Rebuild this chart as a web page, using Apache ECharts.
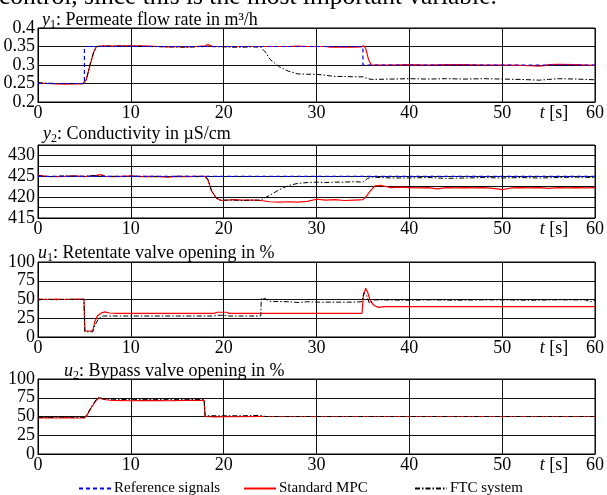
<!DOCTYPE html>
<html><head><meta charset="utf-8">
<script src="https://cdn.jsdelivr.net/npm/echarts@6/dist/echarts.min.js"></script>
<style>html,body{margin:0;padding:0;background:#fff}#c{width:607px;height:495px}</style>
</head><body><div id="c"></div>
<script>
// ---------- data (time in s) ----------
const y1Ref = [[0,0.25],[5,0.25],[5,0.35],[35,0.35],[35,0.30],[60,0.30]];
const y1MPC = [[0,0.251],[1,0.250],[2,0.249],[3,0.248],[4,0.249],[4.8,0.249],[5.2,0.26],[5.6,0.30],[6.0,0.335],[6.3,0.35],[7,0.352],[8,0.351],[9,0.352],[10,0.352],[11,0.352],[12,0.351],[13,0.350],[14,0.349],[15,0.350],[16,0.349],[17,0.350],[18,0.352],[18.3,0.355],[18.7,0.351],[19,0.350],[20,0.350],[21,0.350],[22,0.350],[23,0.350],[24,0.350],[25,0.350],[26,0.350],[27,0.350],[28,0.351],[29,0.350],[30,0.350],[31,0.350],[31.5,0.348],[33,0.348],[34,0.348],[34.8,0.349],[35.1,0.352],[35.3,0.345],[35.6,0.315],[35.9,0.300],[37,0.300],[38,0.300],[40,0.301],[42,0.300],[44,0.301],[46,0.301],[48,0.300],[50,0.300],[52,0.299],[53,0.298],[54,0.297],[54.5,0.298],[55,0.301],[56,0.302],[58,0.301],[59,0.300],[60,0.299]];
const y1FTC = [[0,0.252],[1,0.251],[2,0.250],[3,0.250],[4,0.250],[4.8,0.250],[5.2,0.26],[5.6,0.30],[6,0.335],[6.3,0.350],[7,0.351],[8,0.351],[9,0.351],[10,0.351],[12,0.350],[14,0.349],[16,0.348],[17,0.349],[18,0.350],[20,0.349],[21,0.348],[22,0.348],[23,0.349],[24,0.348],[24.5,0.335],[25,0.315],[25.5,0.305],[26,0.295],[27,0.283],[28,0.276],[29,0.275],[30,0.275],[31,0.272],[32,0.269],[33,0.269],[34,0.268],[35,0.268],[35.5,0.263],[36,0.261],[38,0.262],[40,0.263],[42,0.262],[44,0.263],[46,0.262],[48,0.263],[50,0.262],[52,0.261],[54,0.259],[55,0.261],[56,0.263],[58,0.262],[60,0.260]];

const y2Ref = [[0,425],[60,425]];
const y2MPC = [[0,425.2],[1,425],[2,424.9],[3,425],[4,425.1],[5,424.9],[6,425.1],[6.8,425.4],[7.2,425],[8,424.9],[9,425],[10,425.1],[11,424.9],[12,425],[13,424.9],[14,424.8],[15,425],[16,424.9],[17,425],[18,425],[18.3,424.2],[18.7,421.5],[19.2,419.8],[19.6,419.3],[20,419.2],[21,419.4],[22,419.3],[23,419.3],[24,419.2],[25,418.9],[26,418.8],[27,418.9],[28,418.8],[29,419.0],[30,419.5],[31,419.3],[32,419.4],[33,419.2],[34,419.3],[35,419.4],[35.3,420],[35.8,421.5],[36.3,422.7],[37,422.8],[38,422.3],[39,422.4],[40,422.3],[41,422.2],[42,422.3],[43,422.0],[44,422.3],[45,422.2],[46,422.3],[47,422.2],[48,422.3],[49,422.1],[50,421.8],[51,422.2],[52,422.3],[53,422.2],[54,422.3],[55,422.1],[56,422.3],[57,422.2],[58,422.3],[59,422.2],[60,422.3]];
const y2FTC = [[0,425.1],[1,424.9],[2,425],[3,425.1],[4,425],[5,425],[6,425.2],[7,425],[8,425],[9,424.9],[10,425],[11,425],[12,424.9],[13,425],[14,424.9],[15,425],[16,425],[17,424.9],[18,425],[18.3,424.2],[18.7,421.5],[19.2,419.8],[19.6,419.3],[20,419.3],[21,419.3],[22,419.2],[23,419.3],[24,419.3],[25,420.5],[26,421.8],[27,422.8],[28,423.3],[29,423.5],[30,423.6],[31,423.5],[32,423.6],[33,423.6],[34,423.7],[35,423.6],[35.5,424.5],[36,424.8],[38,424.6],[40,424.6],[42,424.7],[44,424.5],[46,424.6],[48,424.7],[50,424.6],[52,424.7],[54,424.6],[56,424.7],[58,424.8],[60,424.7]];

const u1MPC = [[0,50.5],[1,50],[2,50.5],[3,50],[4,50.5],[4.95,50.5],[5.05,8],[5.9,8],[6.1,20],[6.4,28],[6.8,32],[7.2,33.5],[7.7,32],[8.5,31.5],[10,31.5],[15,31.5],[19,31.5],[19.3,33],[20.3,33],[20.6,31.5],[25,31.5],[30,31.5],[34.9,31.5],[35.05,55],[35.3,65],[35.5,60],[35.8,48],[36.2,42],[36.7,39.5],[37.3,40.5],[40,40.5],[50,40.5],[60,40.5]];
const u1FTC = [[0,49.5],[1,50.5],[2,49.5],[3,50.5],[4,50],[4.95,50],[5.05,7],[5.9,7],[6.1,15],[6.5,24],[7,28],[8,28],[10,28],[15,28],[19,28],[19.3,29],[20,29],[20.5,28],[24,28],[24.05,51.5],[24.5,51],[25,47.5],[27,47],[28,46],[29,47],[30,46.5],[32,46.5],[34,46.5],[34.9,47],[35.1,59],[35.4,55],[35.7,45],[36.2,49.5],[37,49.5],[40,49],[42,49.5],[45,49],[48,49.5],[50,49.5],[53,49],[56,49.5],[59,49.5],[59.5,47],[60,49]];

const u2MPC = [[0,48],[1,48.5],[2,48],[3,48.5],[4,48],[5,48],[5.3,52],[5.8,63],[6.3,72],[6.6,75],[7,73],[7.5,72],[8,71.5],[10,71],[12,71.5],[14,71],[16,71.5],[17.9,71.5],[18.0,50],[19,49.5],[20,49.8],[25,50],[30,50],[40,50],[50,50],[60,50]];
const u2FTC = [[0,49],[1,48.5],[2,49],[3,49.5],[4,49],[5,49],[5.3,53],[5.8,64],[6.3,73],[6.6,76],[7,73.5],[8,73],[10,72.5],[12,72.5],[14,72.5],[16,72.5],[17.9,72.5],[18.0,51],[20,51],[22,51],[24,51.5],[24.5,50],[30,50],[40,50],[50,50],[60,50]];

const seriesNames = ['Reference signals','Standard MPC','FTC system'];
const panelTitles = ['{i|y}{s|1}: Permeate flow rate in m³/h','{i|y}{s|2}: Conductivity in µS/cm','{i|u}{s|1}: Retentate valve opening in %','{i|u}{s|2}: Bypass valve opening in %'];
const headText = 'control, since this is the most important variable.';
const xLabel = '{i|t} [s]';

// ---------- layout ----------
const FONT = "'Liberation Serif','Times New Roman',serif";
const grids = [
  {left:38, top:28, width:560, height:74},
  {left:38, top:145, width:560, height:73},
  {left:38, top:262, width:560, height:75},
  {left:38, top:379, width:560, height:75}
];
const yCfg = [
  {min:0.2, max:0.4, interval:0.05, fmt: v => String(+v.toFixed(2))},
  {min:415, max:432.5, interval:2.5, fmt: v => (Math.abs(v % 5) < 1e-6 ? String(v) : '')},
  {min:0, max:100, interval:25, fmt: v => String(v)},
  {min:0, max:100, interval:25, fmt: v => String(v)}
];
const titlePos = [[42,9],[43,123],[38,242],[64,360]];

const xAxes = grids.map((g,i)=>({
  type:'value', gridIndex:i, min:0, max:60, interval:10,
  axisLine:{show:true, lineStyle:{color:'#000', width:1}},
  axisTick:{show:false},
  splitLine:{show:true, lineStyle:{color:'#111', width:1}},
  axisLabel:{color:'#000', fontFamily:FONT, fontSize:18, margin:2,
    formatter: v => String(v)}
}));
const yAxes = grids.map((g,i)=>({
  type:'value', gridIndex:i, min:yCfg[i].min, max:yCfg[i].max, interval:yCfg[i].interval,
  axisLine:{show:true, lineStyle:{color:'#000', width:1}},
  axisTick:{show:false},
  splitLine:{show:true, lineStyle:{color:'#111', width:1}},
  axisLabel:{color:'#000', fontFamily:FONT, fontSize:18, margin:3, formatter: yCfg[i].fmt}
}));

const styles = {
  'Reference signals': {color:'#0000ff', type:[4,3], width:1.2},
  'Standard MPC': {color:'#ff0000', type:'solid', width:1.2},
  'FTC system': {color:'#000000', type:[5,2,1.5,2], width:1}
};
function mk(name, data, gi, z){
  const st = styles[name];
  return {name, type:'line', data, xAxisIndex:gi, yAxisIndex:gi, symbol:'none', showSymbol:false,
    lineStyle:{color:st.color, type:st.type, width:st.width}, itemStyle:{color:st.color},
    z, animation:false, silent:true};
}
const series = [
  mk('Standard MPC', y1MPC, 0, 2), mk('FTC system', y1FTC, 0, 3), mk('Reference signals', y1Ref, 0, 4),
  mk('Standard MPC', y2MPC, 1, 2), mk('FTC system', y2FTC, 1, 3), mk('Reference signals', y2Ref, 1, 4),
  mk('Standard MPC', u1MPC, 2, 2), mk('FTC system', u1FTC, 2, 3),
  mk('Standard MPC', u2MPC, 3, 2), mk('FTC system', u2FTC, 3, 3)
];

const richT = {
  i:{fontFamily:FONT, fontSize:18, fontStyle:'italic', color:'#000', lineHeight:22},
  s:{fontFamily:FONT, fontSize:12, color:'#000', lineHeight:12, verticalAlign:'bottom'}
};
const titles = panelTitles.map((t,i)=>({
  text:t, left:titlePos[i][0], top:titlePos[i][1], padding:0,
  textStyle:{fontFamily:FONT, fontSize:18, fontWeight:'normal', color:'#000', lineHeight:22, rich:richT}
}));

const legendX = [78, 243, 414];
const legends = seriesNames.map((n,i)=>({
  data:[n], left:legendX[i], top:481, padding:0, itemWidth:32, itemHeight:12, itemGap:0,
  selectedMode:false, itemStyle:{opacity:0, borderWidth:0},
  textStyle:{fontFamily:FONT, fontSize:15, color:'#000', padding:[0,0,0,-2]}
}));

const graphics = [
  {type:'text', x:-1, y:-3, style:{text:headText, font:"25.5px "+FONT, fill:'#000', verticalAlign:'middle'}}
];
grids.forEach(g=>{
  graphics.push({type:'text', x:554, y:g.top+g.height+11,
    style:{text:xLabel, fill:'#000', font:"18px "+FONT, align:'center', verticalAlign:'middle',
      rich:{i:{fontFamily:FONT, fontSize:18, fontStyle:'italic', fill:'#000'}}}});
});

const chart = echarts.init(document.getElementById('c'), null, {renderer:'canvas'});
chart.setOption({
  animation:false,
  backgroundColor:'#fff',
  title: titles,
  legend: legends,
  grid: grids.map(g=>Object.assign({show:true, borderColor:'#000', borderWidth:1, backgroundColor:'transparent'}, g)),
  xAxis: xAxes, yAxis: yAxes, series, graphic: graphics
});
</script></body></html>
